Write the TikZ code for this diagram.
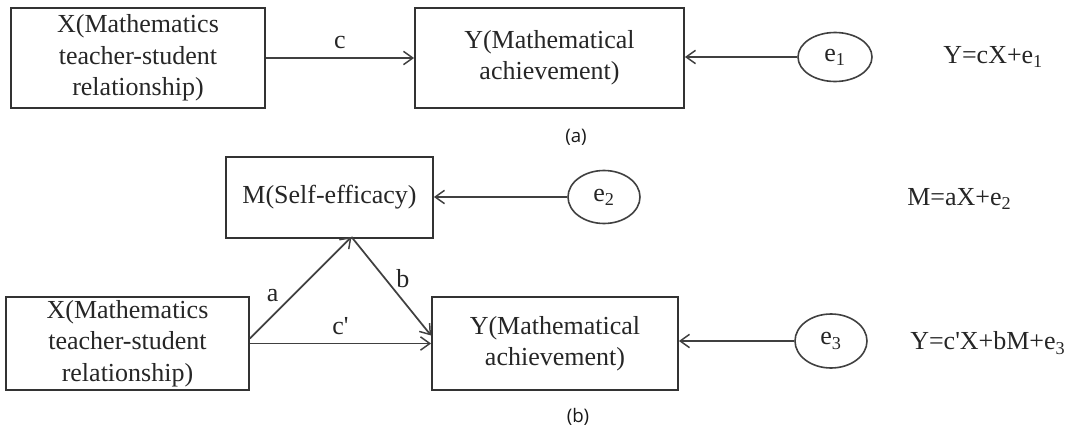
\documentclass[tikz,border=0pt]{standalone}
\usepackage{fontspec}
\setmainfont{Liberation Serif}
\newfontfamily\capfont{Open Sans}
\usetikzlibrary{arrows.meta,shapes.geometric,calc}
\tikzset{
  boxnode/.style={draw=black!80,line width=1.4pt,align=center,inner sep=0pt,
    font=\fontsize{19.5}{23.6}\selectfont,text=black!85},
  errnode/.style={draw=black!75,line width=1.2pt,ellipse,inner sep=0pt,
    font=\fontsize{19.5}{24}\selectfont,text=black!85},
  eqnode/.style={font=\fontsize{19.5}{24}\selectfont,text=black!85,anchor=west,inner sep=0pt},
  lblnode/.style={font=\fontsize{19.5}{24}\selectfont,text=black!85,inner sep=0pt},
  capnode/.style={font=\capfont\fontsize{14}{17}\selectfont,text=black!90,inner sep=0pt},
  conn/.style={draw=black!75,line width=1.3pt,-{Straight Barb[length=7pt,width=10pt,line width=1.1pt]}}
}
\begin{document}
\begin{tikzpicture}[x=0.75pt,y=-0.75pt]
\useasboundingbox (0,0) rectangle (1082,432);
% (a)
\node[boxnode,minimum width=254*0.75pt,minimum height=100*0.75pt] (xa) at (138,58)
  {X(Mathematics\\teacher-student\\relationship)};
\node[boxnode,minimum width=269*0.75pt,minimum height=100*0.75pt] (ya) at (549.5,58)
  {Y(Mathematical\\achievement)};
\node[errnode,minimum width=74*0.75pt,minimum height=49*0.75pt] (e1) at (835,57) {e\textsubscript{1}};
\node[eqnode] (eqa) at (943,57) {Y=cX+e\textsubscript{1}};
\node[capnode] (capa) at (576,137) {(a)};
\draw[conn] (xa) -- node[lblnode,above=6pt] (lc) {c} (ya);
\draw[conn] (e1) -- (e1 -| ya.east);
% (b)
\node[boxnode,minimum width=207*0.75pt,minimum height=81*0.75pt] (m) at (329.5,197.5)
  {M(Self-efficacy)};
\node[errnode,minimum width=72*0.75pt,minimum height=53*0.75pt] (e2) at (604,197) {e\textsubscript{2}};
\node[eqnode] (eqm) at (907,199) {M=aX+e\textsubscript{2}};
\node[boxnode,minimum width=243*0.75pt,minimum height=93*0.75pt] (xb) at (127.5,343.5)
  {X(Mathematics\\teacher-student\\relationship)};
\node[boxnode,minimum width=246*0.75pt,minimum height=93*0.75pt] (yb) at (555,343.5)
  {Y(Mathematical\\achievement)};
\node[errnode,minimum width=72*0.75pt,minimum height=54*0.75pt] (e3) at (831,341) {e\textsubscript{3}};
\node[eqnode] (eqy) at (910,343) {Y=c\textquotesingle X+bM+e\textsubscript{3}};
\node[capnode] (capb) at (578,417) {(b)};
\coordinate (mtip) at ($(m.south)+(22,-2)$);
\draw[conn] (e2) -- (e2 -| m.east);
\draw[conn] ($(xb.east)+(0,-5)$) -- node[lblnode,pos=0.42,left=10pt] (la) {a} (mtip);
\draw[conn] (mtip) -- node[lblnode,pos=0.42,right=8pt] (lb) {b} ($(yb.west)+(0,-8)$);
\draw[conn] (xb.east) -- node[lblnode,above=6pt] (lcp) {c\textquotesingle} (yb.west);
\draw[conn] (e3) -- (e3 -| yb.east);
\end{tikzpicture}
\end{document}
